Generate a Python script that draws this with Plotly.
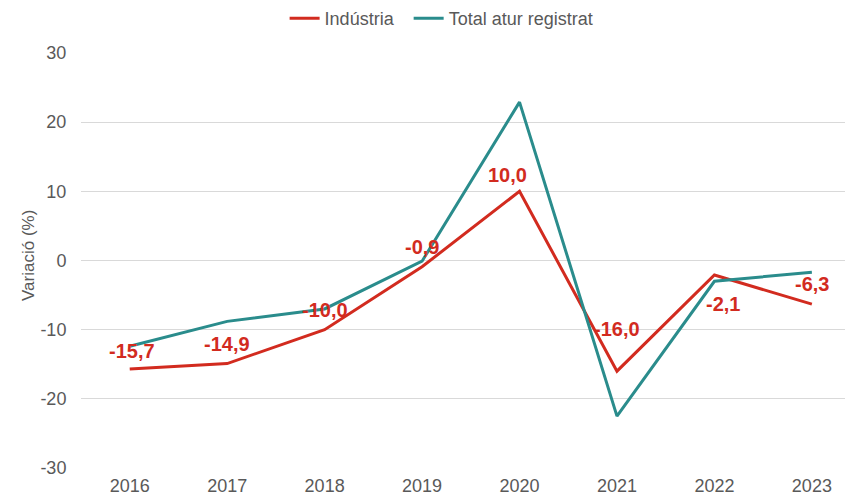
import plotly.graph_objects as go

# Year-on-year change in registered unemployment (%)
years = ["2016", "2017", "2018", "2019", "2020", "2021", "2022", "2023"]
industria = [-15.7, -14.9, -10.0, -0.9, 10.0, -16.0, -2.1, -6.3]
total_atur = [-12.4, -8.8, -7.0, -0.1, 22.9, -22.5, -3.0, -1.7]

y_ticks = [-30, -20, -10, 0, 10, 20, 30]
y_tick_text = [str(v) for v in y_ticks]

RED = "#D22B1F"
TEAL = "#2A8C8C"
GREY_TEXT = "#595959"
FONT = "Liberation Sans, Arial, sans-serif"

# pixel offsets for the value labels on the Indústria line
label_dx = [2, 0, 0, 0, -12, 0, 9, 0]
label_dy = [18, 20, 20, 20, 16, 42, -29, 20]

fig = go.Figure()
fig.add_trace(go.Scatter(
    x=years, y=industria, name="Indústria\u00a0\u00a0", mode="lines",
    line=dict(color=RED, width=3),
))
fig.add_trace(go.Scatter(
    x=years, y=total_atur, name="Total atur registrat", mode="lines",
    line=dict(color=TEAL, width=3),
))

# value labels; category positions are given by index so the year
# strings are not read as numbers
for i, (v, dx, dy) in enumerate(zip(industria, label_dx, label_dy)):
    fig.add_annotation(
        xref="x", yref="y", x=i, y=v,
        text="<b>" + f"{v:.1f}".replace(".", ",") + "</b>",
        showarrow=False, xshift=dx, yshift=dy,
        xanchor="center", yanchor="middle",
        font=dict(family=FONT, size=20, color=RED),
    )

# vertical axis title
fig.add_annotation(
    xref="paper", yref="paper", x=-0.068, y=0.511,
    text="Variació (%)", textangle=-90, showarrow=False,
    xanchor="center", yanchor="middle",
    font=dict(family=FONT, size=17, color=GREY_TEXT),
)

fig.update_layout(
    width=845, height=498,
    margin=dict(l=81, r=0, t=53, b=30, pad=0),
    paper_bgcolor="white", plot_bgcolor="white",
    font=dict(family=FONT, size=18, color=GREY_TEXT),
    showlegend=True,
    legend=dict(
        orientation="h", x=0.472, xanchor="center", y=1.084, yanchor="middle",
        font=dict(family=FONT, size=18, color=GREY_TEXT),
        bgcolor="rgba(0,0,0,0)",
    ),
    xaxis=dict(
        type="category", range=[-0.5, 7.34], automargin=False,
        showgrid=False, zeroline=False, showline=False,
        ticks="outside", ticklen=1, tickcolor="rgba(0,0,0,0)",
        tickfont=dict(family=FONT, size=18, color=GREY_TEXT),
    ),
    yaxis=dict(
        range=[-30, 30], tickvals=y_ticks, ticktext=y_tick_text, automargin=False,
        showgrid=True, gridcolor="#D9D9D9", gridwidth=1,
        zeroline=False, showline=False,
        ticks="outside", ticklen=10, tickcolor="rgba(0,0,0,0)",
        tickfont=dict(family=FONT, size=18, color=GREY_TEXT),
    ),
)

fig.write_html("out.html")
